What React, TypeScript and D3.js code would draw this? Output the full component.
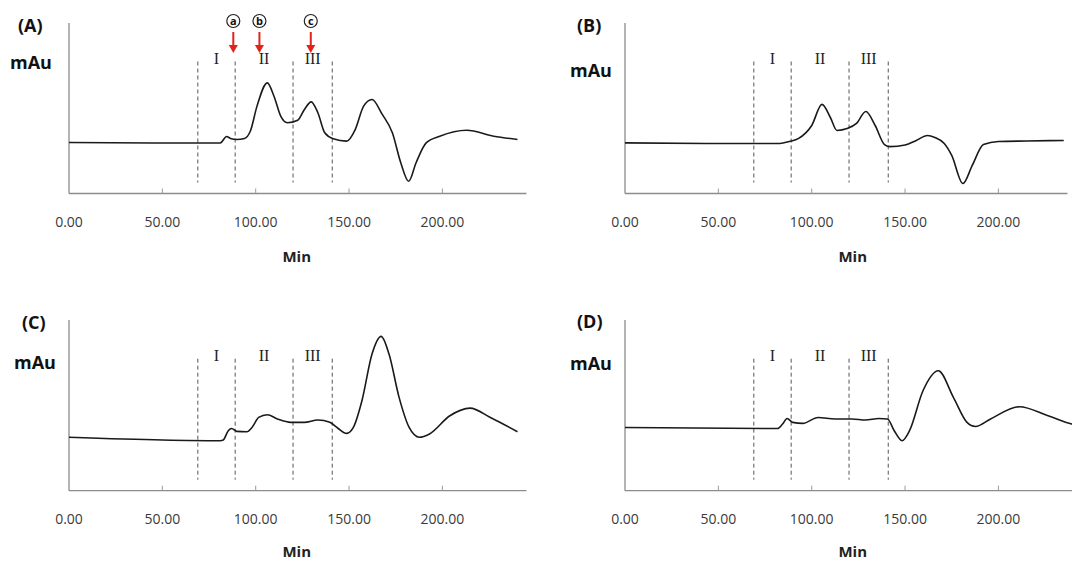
import React from "react";
import * as d3 from "d3";

// Elution time axis (minutes)
const tickValues = [0, 50, 100, 150, 200];
const fractionCuts = [69, 89, 120, 141];
const fractionNames = ["I", "II", "III"];

// Sampled chromatograms: time (min) and absorbance (mAU, relative)
const minutesA = [0, 45, 81, 84.4, 86.5, 89.9, 94, 97.1, 100.7, 106.2, 109.8, 113.4, 117, 122.5, 126.1, 129.7, 133.3, 137, 141.5, 148.7, 153.3, 157.8, 162.3, 167.8, 173.2, 177.7, 181.9, 185.9, 191.3, 198.6, 213, 227.5, 240.2];
const mAuA = [30.0, 29.7, 29.7, 33.5, 32.4, 31.8, 32.4, 36.6, 51.4, 65.1, 57.2, 45.5, 41.6, 43.1, 49.4, 53.9, 47.5, 35.7, 32.2, 30.8, 37.6, 51.4, 55.3, 46.5, 35.7, 18.1, 7.2, 18.1, 29.8, 33.7, 37.2, 33.7, 31.8];

const minutesB = [0, 50, 83, 88, 93, 100, 105.5, 110, 113.5, 119, 124, 129, 134, 139, 142, 150, 156, 162, 166, 171, 175, 181, 186, 192, 200, 215, 235];
const mAuB = [29.8, 29.4, 29.4, 30.6, 32.4, 40.0, 52.4, 44.7, 37.1, 38.2, 41.2, 48.2, 40.0, 28.8, 27.6, 28.5, 31.2, 34.1, 32.9, 29.4, 22.4, 5.9, 16.5, 28.8, 30.6, 30.9, 31.2];

const minutesC = [0, 50, 81, 82.6, 85.3, 87.1, 89.9, 95.3, 98, 101.6, 106.2, 111.6, 118.8, 126, 133.3, 139.7, 144.2, 148.7, 152.3, 156.9, 162.3, 167.2, 171.4, 176.8, 182.2, 187.7, 193.1, 204, 214.8, 225.7, 240.2];
const mAuC = [31.4, 29.8, 29.4, 29.8, 35.3, 36.6, 34.9, 34.7, 37.2, 43.1, 44.7, 42.2, 40.2, 40.2, 41.6, 40.2, 36.6, 33.7, 37.2, 52.9, 80.4, 90.8, 80.4, 54.9, 37.2, 31.4, 33.4, 44.1, 48.6, 43.1, 34.7];

const minutesD = [0, 81.7, 84.4, 86.8, 89.8, 95.3, 103.4, 112.5, 121.6, 128.8, 136, 140.6, 144.2, 148.4, 152.4, 159.6, 167.8, 175.9, 183.2, 187.7, 195.8, 211.2, 226.6, 239.3, 245];
const mAuD = [37.2, 36.6, 39.2, 42.5, 40.2, 39.6, 43.1, 42.2, 42.2, 41.6, 42.5, 42.2, 35.3, 29.4, 35.3, 58.8, 70.6, 54.9, 40.2, 37.8, 42.2, 49.4, 44.1, 39.2, 38.2];

// Collected fractions marked on panel A
const markerLetters = ["a", "b", "c"];
const markerMinutes = [88, 102, 129.5];

const PX_PER_MIN = 1.867;
const FONT = "'Open Sans', 'Noto Sans', sans-serif";

type PanelProps = {
  tag: string;
  left: number;
  bottom: number;
  top: number;
  xMax: number;
  minutes: number[];
  values: number[];
  tagPos: [number, number];
  unitPos: [number, number];
  minY: number;
  markers?: boolean;
};

function Panel({ tag, left, bottom, top, xMax, minutes, values, tagPos, unitPos, minY, markers }: PanelProps) {
  const x = d3.scaleLinear().domain([0, xMax]).range([left, left + xMax * PX_PER_MIN]);
  const y = d3.scaleLinear().domain([0, 100]).range([bottom, bottom - 170]);
  const fmt = d3.format(".2f");
  const pts: [number, number][] = minutes.map((m, i) => [m, values[i]]);
  const line = d3
    .line<[number, number]>()
    .x((d) => x(d[0]))
    .y((d) => y(d[1]))
    .curve(d3.curveMonotoneX);
  const dashTop = bottom - 132;
  const dashBottom = bottom - 11;
  const mids = fractionNames.map((_, i) => (fractionCuts[i] + fractionCuts[i + 1]) / 2);
  const clipId = `clip-${tag}`;
  return (
    <g>
      <defs>
        <clipPath id={clipId}>
          <rect x={left} y={top - 40} width={xMax * PX_PER_MIN + 1} height={bottom - top + 40} />
        </clipPath>
      </defs>
      <text x={tagPos[0]} y={tagPos[1]} fontFamily={FONT} fontWeight="bold" fontSize={18} fill="#111" dominantBaseline="central">
        ({tag})
      </text>
      <text x={unitPos[0]} y={unitPos[1]} fontFamily={FONT} fontWeight="bold" fontSize={18} fill="#111" dominantBaseline="central">
        mAu
      </text>
      {/* axes */}
      <line x1={left} x2={left} y1={top} y2={bottom} stroke="#8c8c8c" strokeWidth={1.3} />
      <line x1={left} x2={x(xMax)} y1={bottom} y2={bottom} stroke="#8c8c8c" strokeWidth={1.3} />
      {tickValues.map((t) => (
        <g key={t}>
          {t > 0 && <line x1={x(t)} x2={x(t)} y1={bottom} y2={bottom - 5} stroke="#9a9a9a" strokeWidth={1} />}
          <text x={x(t)} y={bottom + 28} textAnchor="middle" dominantBaseline="central" fontFamily={FONT} fontSize={14} fill="#3a3a3a">
            {fmt(t)}
          </text>
        </g>
      ))}
      <text x={x(122)} y={minY} textAnchor="middle" dominantBaseline="central" fontFamily={FONT} fontWeight="bold" fontSize={15} fill="#222">
        Min
      </text>
      {/* fraction boundaries */}
      {fractionCuts.map((c) => (
        <line key={c} x1={x(c)} x2={x(c)} y1={dashTop} y2={dashBottom} stroke="#555" strokeWidth={1} strokeDasharray="4,3" />
      ))}
      {fractionNames.map((n, i) => (
        <text key={n} x={x(mids[i])} y={dashTop - 3} textAnchor="middle" dominantBaseline="central" fontFamily="'Liberation Serif', 'DejaVu Serif', serif" fontSize={16} fill="#222">
          {n}
        </text>
      ))}
      <path d={line(pts) ?? ""} fill="none" stroke="#1a1a1a" strokeWidth={1.6} clipPath={`url(#${clipId})`} />
      {markers &&
        markerMinutes.map((m, i) => {
          const cx = x(m);
          return (
            <g key={markerLetters[i]}>
              <circle cx={cx} cy={top - 2} r={6.5} fill="#fff" stroke="#222" strokeWidth={1.2} />
              <text x={cx} y={top - 2.5} textAnchor="middle" dominantBaseline="central" fontFamily={FONT} fontWeight="bold" fontSize={11} fill="#111">
                {markerLetters[i]}
              </text>
              <line x1={cx} x2={cx} y1={top + 9} y2={top + 24} stroke="#e2231a" strokeWidth={2} />
              <polygon points={`${cx - 4.5},${top + 22} ${cx + 4.5},${top + 22} ${cx},${top + 30}`} fill="#e2231a" />
            </g>
          );
        })}
    </g>
  );
}

export default function App() {
  return (
    <svg width={1072} height={562} style={{ position: "absolute", left: 0, top: 0, background: "#fff" }}>
      <Panel tag="A" left={69} bottom={193.5} top={23} xMax={245} minutes={minutesA} values={mAuA} tagPos={[18, 25]} unitPos={[10, 62]} minY={255.5} markers />
      <Panel tag="B" left={625} bottom={193.5} top={23} xMax={237} minutes={minutesB} values={mAuB} tagPos={[577, 25]} unitPos={[570, 70]} minY={255.5} />
      <Panel tag="C" left={69} bottom={490.7} top={320} xMax={245} minutes={minutesC} values={mAuC} tagPos={[22, 322]} unitPos={[14, 362]} minY={551} />
      <Panel tag="D" left={625} bottom={490.7} top={320} xMax={240} minutes={minutesD} values={mAuD} tagPos={[577, 321]} unitPos={[570, 363]} minY={551} />
    </svg>
  );
}
